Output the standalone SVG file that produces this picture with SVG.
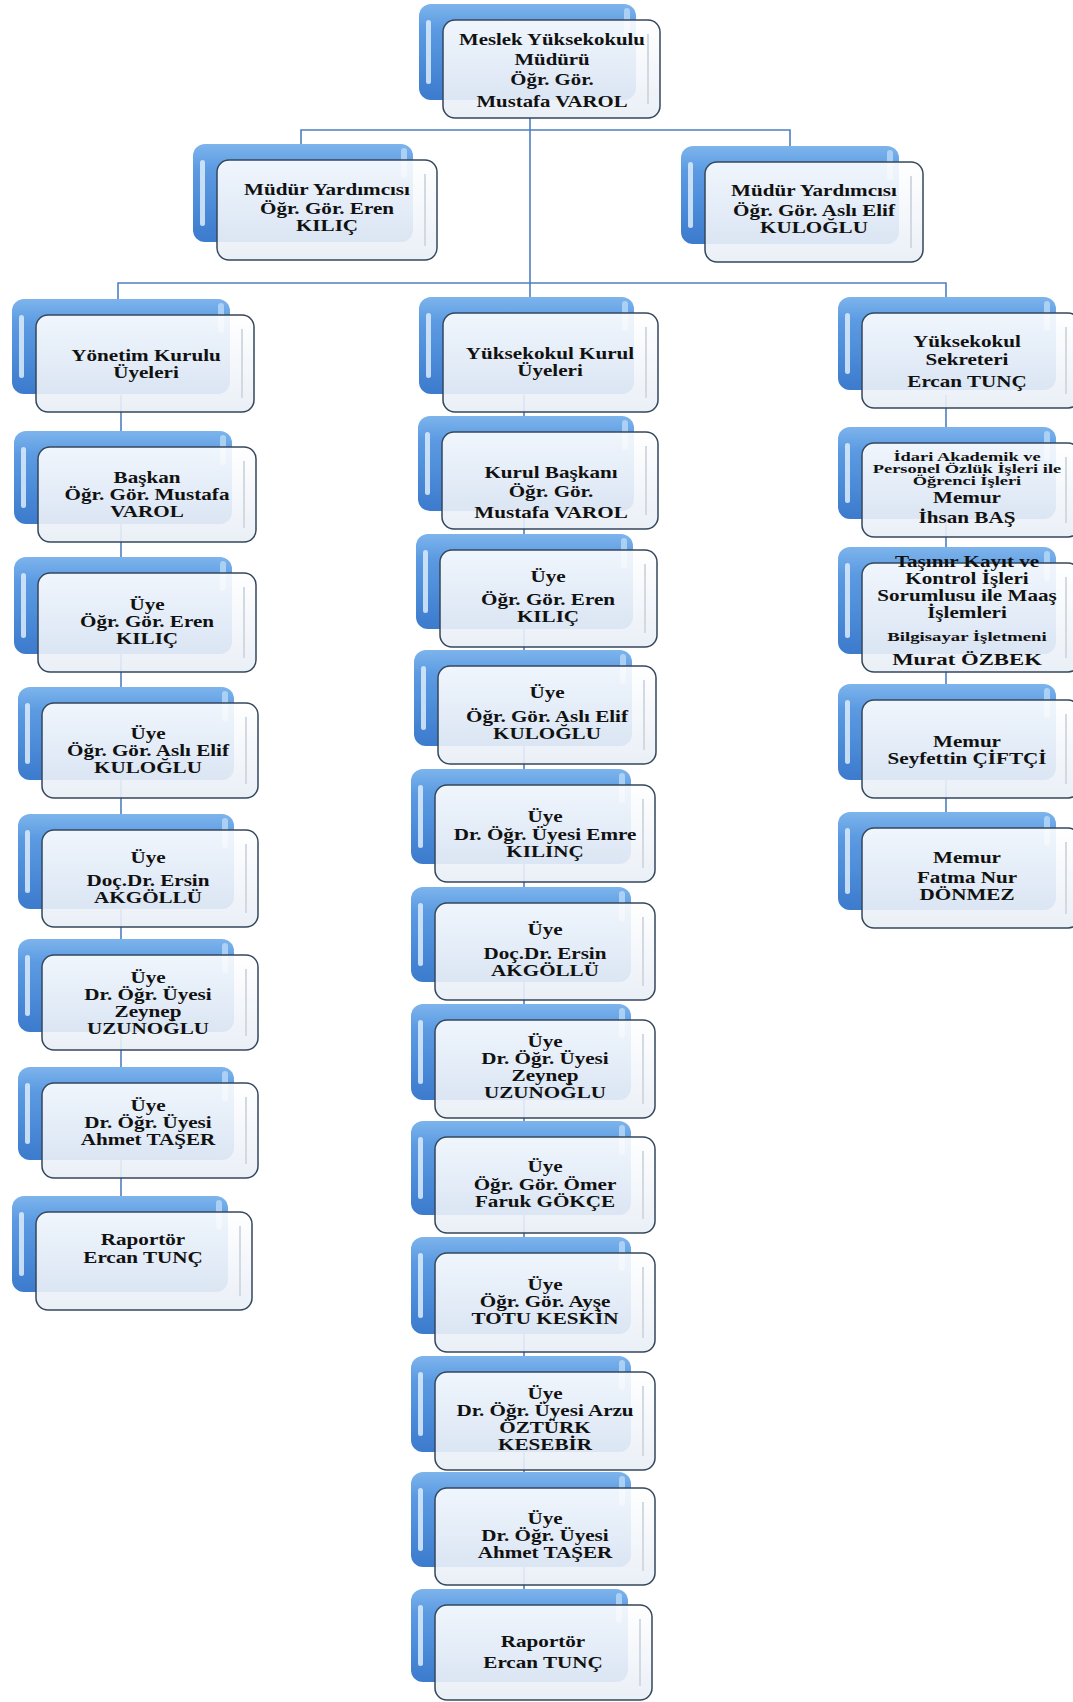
<svg xmlns="http://www.w3.org/2000/svg" width="1073" height="1702" viewBox="0 0 1073 1702">
<defs>
<linearGradient id="gb" x1="0" y1="0" x2="0" y2="1">
<stop offset="0" stop-color="#7db4ec"/>
<stop offset="0.25" stop-color="#5c9be2"/>
<stop offset="1" stop-color="#3c7bcd"/>
</linearGradient>
<linearGradient id="gw" x1="0" y1="0" x2="0" y2="1">
<stop offset="0" stop-color="#ffffff"/>
<stop offset="1" stop-color="#e8eef6"/>
</linearGradient>
</defs>
<style>
.bk{fill:url(#gb)}
.hl{fill:#dcebfb;opacity:.85}
.hr{fill:#b9d9f7;opacity:.8}
.fr{fill:url(#gw);fill-opacity:.9;stroke:#34475c;stroke-width:1.5}
.in{stroke:#d3d9e1;stroke-width:2}
.t text{font-family:"Liberation Serif","Times New Roman",serif;font-weight:bold;font-size:16px;text-anchor:middle;fill:#111}
.s text{font-size:11.5px}
.cn{stroke:#4d7fc0;stroke-width:1.6;fill:none}
</style>
<rect width="1073" height="1702" fill="#ffffff"/>
<g id="connectors" class="cn">
<path d="M530 118V283"/>
<path d="M301 145V130H790V147"/>
<path d="M118 300V283H946V298"/>
<path d="M530 283V297"/>
<path d="M121 395V1197"/>
<path d="M524 395V1590"/>
<path d="M946 395V813"/>
</g>

<g id="n-top">
<rect class="bk" x="419" y="4" width="217" height="96" rx="12"/>
<rect class="hl" x="426" y="20" width="5" height="64" rx="2.5"/>
<rect class="hr" x="624" y="8" width="6" height="30" rx="3"/>
<rect class="fr" x="443" y="20" width="217" height="98" rx="12"/>
<line class="in" x1="648" y1="34" x2="648" y2="104"/>
<g class="t" transform="translate(552 0) scale(1.3 1)">
<text y="45">Meslek Yüksekokulu</text>
<text y="65">Müdürü</text>
<text y="85">Öğr. Gör.</text>
<text y="107">Mustafa VAROL</text>
</g>
</g>

<g id="n-yrd1">
<rect class="bk" x="193" y="144" width="220" height="98" rx="12"/>
<rect class="hl" x="200" y="160" width="5" height="66" rx="2.5"/>
<rect class="hr" x="401" y="148" width="6" height="30" rx="3"/>
<rect class="fr" x="217" y="160" width="220" height="100" rx="12"/>
<line class="in" x1="425" y1="174" x2="425" y2="246"/>
<g class="t" transform="translate(327 0) scale(1.32 1)">
<text y="195">Müdür  Yardımcısı</text>
<text y="214">Öğr. Gör. Eren</text>
<text y="231">KILIÇ</text>
</g>
</g>

<g id="n-yrd2">
<rect class="bk" x="681" y="146" width="218" height="98" rx="12"/>
<rect class="hl" x="688" y="162" width="5" height="66" rx="2.5"/>
<rect class="hr" x="887" y="150" width="6" height="30" rx="3"/>
<rect class="fr" x="705" y="162" width="218" height="100" rx="12"/>
<line class="in" x1="911" y1="176" x2="911" y2="248"/>
<g class="t" transform="translate(814 0) scale(1.32 1)">
<text y="196">Müdür  Yardımcısı</text>
<text y="216">Öğr. Gör. Aslı Elif</text>
<text y="233">KULOĞLU</text>
</g>
</g>

<g id="n-l1">
<rect class="bk" x="12" y="299" width="218" height="95" rx="12"/>
<rect class="hl" x="19" y="315" width="5" height="63" rx="2.5"/>
<rect class="hr" x="218" y="303" width="6" height="30" rx="3"/>
<rect class="fr" x="36" y="315" width="218" height="97" rx="12"/>
<line class="in" x1="242" y1="329" x2="242" y2="398"/>
<g class="t" transform="translate(146 0) scale(1.32 1)">
<text y="361">Yönetim Kurulu</text>
<text y="378">Üyeleri</text>
</g>
</g>

<g id="n-l2">
<rect class="bk" x="14" y="431" width="218" height="93" rx="12"/>
<rect class="hl" x="21" y="447" width="5" height="61" rx="2.5"/>
<rect class="hr" x="220" y="435" width="6" height="30" rx="3"/>
<rect class="fr" x="38" y="447" width="218" height="95" rx="12"/>
<line class="in" x1="244" y1="461" x2="244" y2="528"/>
<g class="t" transform="translate(147 0) scale(1.32 1)">
<text y="483">Başkan</text>
<text y="500">Öğr. Gör. Mustafa</text>
<text y="517">VAROL</text>
</g>
</g>

<g id="n-l3">
<rect class="bk" x="14" y="557" width="218" height="97" rx="12"/>
<rect class="hl" x="21" y="573" width="5" height="65" rx="2.5"/>
<rect class="hr" x="220" y="561" width="6" height="30" rx="3"/>
<rect class="fr" x="38" y="573" width="218" height="99" rx="12"/>
<line class="in" x1="244" y1="587" x2="244" y2="658"/>
<g class="t" transform="translate(147 0) scale(1.32 1)">
<text y="610">Üye</text>
<text y="627">Öğr. Gör. Eren</text>
<text y="644">KILIÇ</text>
</g>
</g>

<g id="n-l4">
<rect class="bk" x="18" y="687" width="216" height="93" rx="12"/>
<rect class="hl" x="25" y="703" width="5" height="61" rx="2.5"/>
<rect class="hr" x="222" y="691" width="6" height="30" rx="3"/>
<rect class="fr" x="42" y="703" width="216" height="95" rx="12"/>
<line class="in" x1="246" y1="717" x2="246" y2="784"/>
<g class="t" transform="translate(148 0) scale(1.32 1)">
<text y="739">Üye</text>
<text y="756">Öğr. Gör. Aslı Elif</text>
<text y="773">KULOĞLU</text>
</g>
</g>

<g id="n-l5">
<rect class="bk" x="18" y="814" width="216" height="95" rx="12"/>
<rect class="hl" x="25" y="830" width="5" height="63" rx="2.5"/>
<rect class="hr" x="222" y="818" width="6" height="30" rx="3"/>
<rect class="fr" x="42" y="830" width="216" height="97" rx="12"/>
<line class="in" x1="246" y1="844" x2="246" y2="913"/>
<g class="t" transform="translate(148 0) scale(1.32 1)">
<text y="863">Üye</text>
<text y="886">Doç.Dr. Ersin</text>
<text y="903">AKGÖLLÜ</text>
</g>
</g>

<g id="n-l6">
<rect class="bk" x="18" y="939" width="216" height="93" rx="12"/>
<rect class="hl" x="25" y="955" width="5" height="61" rx="2.5"/>
<rect class="hr" x="222" y="943" width="6" height="30" rx="3"/>
<rect class="fr" x="42" y="955" width="216" height="95" rx="12"/>
<line class="in" x1="246" y1="969" x2="246" y2="1036"/>
<g class="t" transform="translate(148 0) scale(1.32 1)">
<text y="983">Üye</text>
<text y="1000">Dr. Öğr. Üyesi</text>
<text y="1017">Zeynep</text>
<text y="1034">UZUNOĞLU</text>
</g>
</g>

<g id="n-l7">
<rect class="bk" x="18" y="1067" width="216" height="93" rx="12"/>
<rect class="hl" x="25" y="1083" width="5" height="61" rx="2.5"/>
<rect class="hr" x="222" y="1071" width="6" height="30" rx="3"/>
<rect class="fr" x="42" y="1083" width="216" height="95" rx="12"/>
<line class="in" x1="246" y1="1097" x2="246" y2="1164"/>
<g class="t" transform="translate(148 0) scale(1.32 1)">
<text y="1111">Üye</text>
<text y="1128">Dr. Öğr. Üyesi</text>
<text y="1145">Ahmet TAŞER</text>
</g>
</g>

<g id="n-l8">
<rect class="bk" x="12" y="1196" width="216" height="96" rx="12"/>
<rect class="hl" x="19" y="1212" width="5" height="64" rx="2.5"/>
<rect class="hr" x="216" y="1200" width="6" height="30" rx="3"/>
<rect class="fr" x="36" y="1212" width="216" height="98" rx="12"/>
<line class="in" x1="240" y1="1226" x2="240" y2="1296"/>
<g class="t" transform="translate(143 0) scale(1.32 1)">
<text y="1245">Raportör</text>
<text y="1263">Ercan TUNÇ</text>
</g>
</g>

<g id="n-m1">
<rect class="bk" x="419" y="297" width="215" height="97" rx="12"/>
<rect class="hl" x="426" y="313" width="5" height="65" rx="2.5"/>
<rect class="hr" x="622" y="301" width="6" height="30" rx="3"/>
<rect class="fr" x="443" y="313" width="215" height="99" rx="12"/>
<line class="in" x1="646" y1="327" x2="646" y2="398"/>
<g class="t" transform="translate(550 0) scale(1.32 1)">
<text y="359">Yüksekokul Kurul</text>
<text y="376">Üyeleri</text>
</g>
</g>

<g id="n-m2">
<rect class="bk" x="418" y="416" width="216" height="95" rx="12"/>
<rect class="hl" x="425" y="432" width="5" height="63" rx="2.5"/>
<rect class="hr" x="622" y="420" width="6" height="30" rx="3"/>
<rect class="fr" x="442" y="432" width="216" height="97" rx="12"/>
<line class="in" x1="646" y1="446" x2="646" y2="515"/>
<g class="t" transform="translate(551 0) scale(1.32 1)">
<text y="478">Kurul Başkanı</text>
<text y="497">Öğr. Gör.</text>
<text y="518">Mustafa VAROL</text>
</g>
</g>

<g id="n-m3">
<rect class="bk" x="416" y="534" width="217" height="95" rx="12"/>
<rect class="hl" x="423" y="550" width="5" height="63" rx="2.5"/>
<rect class="hr" x="621" y="538" width="6" height="30" rx="3"/>
<rect class="fr" x="440" y="550" width="217" height="97" rx="12"/>
<line class="in" x1="645" y1="564" x2="645" y2="633"/>
<g class="t" transform="translate(548 0) scale(1.32 1)">
<text y="582">Üye</text>
<text y="605">Öğr. Gör. Eren</text>
<text y="622">KILIÇ</text>
</g>
</g>

<g id="n-m4">
<rect class="bk" x="414" y="650" width="218" height="96" rx="12"/>
<rect class="hl" x="421" y="666" width="5" height="64" rx="2.5"/>
<rect class="hr" x="620" y="654" width="6" height="30" rx="3"/>
<rect class="fr" x="438" y="666" width="218" height="98" rx="12"/>
<line class="in" x1="644" y1="680" x2="644" y2="750"/>
<g class="t" transform="translate(547 0) scale(1.32 1)">
<text y="698">Üye</text>
<text y="722">Öğr. Gör. Aslı Elif</text>
<text y="739">KULOĞLU</text>
</g>
</g>

<g id="n-m5">
<rect class="bk" x="411" y="769" width="220" height="95" rx="12"/>
<rect class="hl" x="418" y="785" width="5" height="63" rx="2.5"/>
<rect class="hr" x="619" y="773" width="6" height="30" rx="3"/>
<rect class="fr" x="435" y="785" width="220" height="97" rx="12"/>
<line class="in" x1="643" y1="799" x2="643" y2="868"/>
<g class="t" transform="translate(545 0) scale(1.32 1)">
<text y="822">Üye</text>
<text y="840">Dr. Öğr. Üyesi Emre</text>
<text y="857">KILINÇ</text>
</g>
</g>

<g id="n-m6">
<rect class="bk" x="411" y="887" width="220" height="95" rx="12"/>
<rect class="hl" x="418" y="903" width="5" height="63" rx="2.5"/>
<rect class="hr" x="619" y="891" width="6" height="30" rx="3"/>
<rect class="fr" x="435" y="903" width="220" height="97" rx="12"/>
<line class="in" x1="643" y1="917" x2="643" y2="986"/>
<g class="t" transform="translate(545 0) scale(1.32 1)">
<text y="935">Üye</text>
<text y="959">Doç.Dr. Ersin</text>
<text y="976">AKGÖLLÜ</text>
</g>
</g>

<g id="n-m7">
<rect class="bk" x="411" y="1004" width="220" height="96" rx="12"/>
<rect class="hl" x="418" y="1020" width="5" height="64" rx="2.5"/>
<rect class="hr" x="619" y="1008" width="6" height="30" rx="3"/>
<rect class="fr" x="435" y="1020" width="220" height="98" rx="12"/>
<line class="in" x1="643" y1="1034" x2="643" y2="1104"/>
<g class="t" transform="translate(545 0) scale(1.32 1)">
<text y="1047">Üye</text>
<text y="1064">Dr. Öğr. Üyesi</text>
<text y="1081">Zeynep</text>
<text y="1098">UZUNOĞLU</text>
</g>
</g>

<g id="n-m8">
<rect class="bk" x="411" y="1121" width="220" height="94" rx="12"/>
<rect class="hl" x="418" y="1137" width="5" height="62" rx="2.5"/>
<rect class="hr" x="619" y="1125" width="6" height="30" rx="3"/>
<rect class="fr" x="435" y="1137" width="220" height="96" rx="12"/>
<line class="in" x1="643" y1="1151" x2="643" y2="1219"/>
<g class="t" transform="translate(545 0) scale(1.32 1)">
<text y="1172">Üye</text>
<text y="1190">Öğr. Gör. Ömer</text>
<text y="1207">Faruk GÖKÇE</text>
</g>
</g>

<g id="n-m9">
<rect class="bk" x="411" y="1237" width="220" height="97" rx="12"/>
<rect class="hl" x="418" y="1253" width="5" height="65" rx="2.5"/>
<rect class="hr" x="619" y="1241" width="6" height="30" rx="3"/>
<rect class="fr" x="435" y="1253" width="220" height="99" rx="12"/>
<line class="in" x1="643" y1="1267" x2="643" y2="1338"/>
<g class="t" transform="translate(545 0) scale(1.32 1)">
<text y="1290">Üye</text>
<text y="1307">Öğr. Gör. Ayşe</text>
<text y="1324">TOTU KESKİN</text>
</g>
</g>

<g id="n-m10">
<rect class="bk" x="411" y="1356" width="220" height="96" rx="12"/>
<rect class="hl" x="418" y="1372" width="5" height="64" rx="2.5"/>
<rect class="hr" x="619" y="1360" width="6" height="30" rx="3"/>
<rect class="fr" x="435" y="1372" width="220" height="98" rx="12"/>
<line class="in" x1="643" y1="1386" x2="643" y2="1456"/>
<g class="t" transform="translate(545 0) scale(1.32 1)">
<text y="1399">Üye</text>
<text y="1416">Dr. Öğr. Üyesi Arzu</text>
<text y="1433">ÖZTÜRK</text>
<text y="1450">KESEBİR</text>
</g>
</g>

<g id="n-m11">
<rect class="bk" x="411" y="1472" width="220" height="95" rx="12"/>
<rect class="hl" x="418" y="1488" width="5" height="63" rx="2.5"/>
<rect class="hr" x="619" y="1476" width="6" height="30" rx="3"/>
<rect class="fr" x="435" y="1488" width="220" height="97" rx="12"/>
<line class="in" x1="643" y1="1502" x2="643" y2="1571"/>
<g class="t" transform="translate(545 0) scale(1.32 1)">
<text y="1524">Üye</text>
<text y="1541">Dr. Öğr. Üyesi</text>
<text y="1558">Ahmet TAŞER</text>
</g>
</g>

<g id="n-m12">
<rect class="bk" x="411" y="1589" width="217" height="93" rx="12"/>
<rect class="hl" x="418" y="1605" width="5" height="61" rx="2.5"/>
<rect class="hr" x="616" y="1593" width="6" height="30" rx="3"/>
<rect class="fr" x="435" y="1605" width="217" height="95" rx="12"/>
<line class="in" x1="640" y1="1619" x2="640" y2="1686"/>
<g class="t" transform="translate(543 0) scale(1.32 1)">
<text y="1647">Raportör</text>
<text y="1668">Ercan TUNÇ</text>
</g>
</g>

<g id="n-r1">
<rect class="bk" x="838" y="297" width="218" height="93" rx="12"/>
<rect class="hl" x="845" y="313" width="5" height="61" rx="2.5"/>
<rect class="hr" x="1044" y="301" width="6" height="30" rx="3"/>
<rect class="fr" x="862" y="313" width="218" height="95" rx="12"/>
<line class="in" x1="1066" y1="327" x2="1066" y2="394"/>
<g class="t" transform="translate(967 0) scale(1.32 1)">
<text y="347">Yüksekokul</text>
<text y="365">Sekreteri</text>
<text y="387">Ercan TUNÇ</text>
</g>
</g>

<g id="n-r2">
<rect class="bk" x="838" y="427" width="218" height="92" rx="12"/>
<rect class="hl" x="845" y="443" width="5" height="60" rx="2.5"/>
<rect class="hr" x="1044" y="431" width="6" height="30" rx="3"/>
<rect class="fr" x="862" y="443" width="218" height="94" rx="12"/>
<line class="in" x1="1066" y1="457" x2="1066" y2="523"/>
<g class="t s" transform="translate(967 0) scale(1.6 1)">
<text y="461">İdari Akademik ve</text>
<text y="473">Personel Özlük İşleri ile</text>
<text y="485">Öğrenci İşleri</text>
</g>
<g class="t" transform="translate(967 0) scale(1.32 1)">
<text y="503">Memur</text>
<text y="523">İhsan BAŞ</text>
</g>
</g>

<g id="n-r3">
<rect class="bk" x="838" y="547" width="218" height="107" rx="12"/>
<rect class="hl" x="845" y="563" width="5" height="75" rx="2.5"/>
<rect class="hr" x="1044" y="551" width="6" height="30" rx="3"/>
<rect class="fr" x="862" y="563" width="218" height="109" rx="12"/>
<line class="in" x1="1066" y1="577" x2="1066" y2="658"/>
<g class="t" transform="translate(967 0) scale(1.32 1)">
<text y="567">Taşınır Kayıt ve</text>
<text y="584">Kontrol İşleri</text>
<text y="601">Sorumlusu ile Maaş</text>
<text y="618">İşlemleri</text>
</g>
<g class="t" transform="translate(967 0) scale(1.5 1)">
<text y="641" style="font-size:12.5px">Bilgisayar İşletmeni</text>
</g>
<g class="t" transform="translate(967 0) scale(1.3 1)">
<text y="665" style="font-size:17.5px">Murat ÖZBEK</text>
</g>
</g>

<g id="n-r4">
<rect class="bk" x="838" y="684" width="218" height="96" rx="12"/>
<rect class="hl" x="845" y="700" width="5" height="64" rx="2.5"/>
<rect class="hr" x="1044" y="688" width="6" height="30" rx="3"/>
<rect class="fr" x="862" y="700" width="218" height="98" rx="12"/>
<line class="in" x1="1066" y1="714" x2="1066" y2="784"/>
<g class="t" transform="translate(967 0) scale(1.32 1)">
<text y="747">Memur</text>
<text y="764">Seyfettin ÇİFTÇİ</text>
</g>
</g>

<g id="n-r5">
<rect class="bk" x="838" y="812" width="218" height="98" rx="12"/>
<rect class="hl" x="845" y="828" width="5" height="66" rx="2.5"/>
<rect class="hr" x="1044" y="816" width="6" height="30" rx="3"/>
<rect class="fr" x="862" y="828" width="218" height="100" rx="12"/>
<line class="in" x1="1066" y1="842" x2="1066" y2="914"/>
<g class="t" transform="translate(967 0) scale(1.32 1)">
<text y="863">Memur</text>
<text y="883">Fatma Nur</text>
<text y="900">DÖNMEZ</text>
</g>
</g>
</svg>
